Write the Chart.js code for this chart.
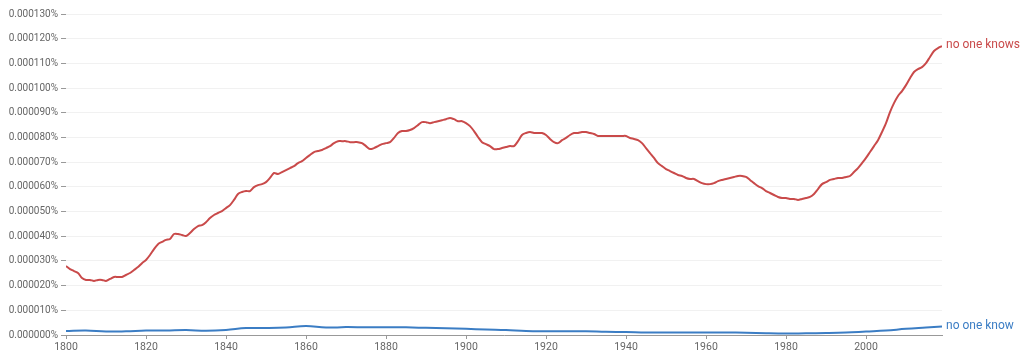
<!DOCTYPE html>
<html lang="en">
<head>
    <meta charset="UTF-8">
    <title>no one knows / no one know</title>
    <script src="https://cdn.jsdelivr.net/npm/chart.js@4/dist/chart.umd.min.js"></script>
    <style>
        html, body { margin: 0; padding: 0; background: #fff; }
        #wrap { width: 1024px; height: 352px; }
    </style>
</head>
<body>
    <div id="wrap"><canvas id="myChart"></canvas></div>

    <script>
        // values are in millionths of a percent (28 -> 0.000028%)
        const UNIT = 1e-6;

        const knowsYears = [];
        for (let y = 1800; y <= 2019; y++) knowsYears.push(y);
        const knowsValues = [
            27.9, 26.7, 25.9, 25.1, 23.1, 22.3, 22.3, 21.9, 22.3, 22.3,
            21.9, 22.7, 23.5, 23.5, 23.5, 24.3, 25.1, 26.3, 27.5, 29.1,
            30.4, 32.4, 34.8, 36.8, 37.7, 38.5, 38.9, 40.9, 40.9, 40.5,
            40.1, 41.3, 42.9, 44.1, 44.5, 45.7, 47.4, 48.6, 49.4, 50.2,
            51.4, 52.6, 54.7, 57.1, 57.9, 58.3, 58.3, 59.9, 60.7, 61.1,
            61.9, 63.6, 65.6, 65.2, 66.0, 66.8, 67.6, 68.4, 69.6, 70.4,
            71.7, 72.9, 74.1, 74.5, 74.9, 75.7, 76.5, 77.7, 78.5, 78.5,
            78.5, 78.1, 78.1, 78.1, 77.7, 76.5, 75.3, 75.7, 76.5, 77.3,
            77.7, 78.1, 79.8, 81.8, 82.6, 82.6, 83.0, 83.8, 85.0, 86.2,
            86.2, 85.8, 86.2, 86.6, 87.0, 87.4, 87.9, 87.4, 86.6, 86.6,
            85.8, 84.6, 82.6, 80.2, 78.1, 77.3, 76.5, 75.3, 75.3, 75.7,
            76.1, 76.5, 76.5, 78.5, 81.0, 81.8, 82.2, 81.8, 81.8, 81.8,
            81.0, 79.4, 78.1, 77.7, 78.9, 79.8, 81.0, 81.8, 81.8, 82.2,
            82.2, 81.8, 81.4, 80.6, 80.6, 80.6, 80.6, 80.6, 80.6, 80.6,
            80.6, 79.8, 79.4, 78.9, 77.7, 75.7, 73.7, 71.7, 69.6, 68.4,
            67.2, 66.4, 65.6, 64.8, 64.4, 63.6, 63.2, 63.2, 62.3, 61.5,
            61.1, 61.1, 61.5, 62.3, 62.8, 63.2, 63.6, 64.0, 64.4, 64.4,
            64.0, 62.8, 61.5, 60.3, 59.5, 58.3, 57.5, 56.7, 55.9, 55.5,
            55.5, 55.1, 55.1, 54.7, 55.1, 55.5, 55.9, 57.1, 59.1, 61.1,
            61.9, 62.8, 63.2, 63.6, 63.6, 64.0, 64.4, 66.0, 67.6, 69.6,
            71.7, 74.1, 76.5, 78.9, 82.2, 85.8, 90.3, 93.9, 96.8, 98.8,
            101.2, 104.0, 106.5, 107.7, 108.5, 110.1, 112.6, 115.0, 116.2, 117.0
        ];

        const knowYears = [
            1800, 1805, 1810, 1815, 1820, 1825, 1830, 1835, 1840, 1845,
            1850, 1855, 1860, 1865, 1870, 1875, 1880, 1885, 1890, 1895,
            1900, 1905, 1910, 1915, 1920, 1925, 1930, 1935, 1940, 1945,
            1950, 1955, 1960, 1965, 1970, 1975, 1980, 1985, 1990, 1995,
            2000, 2005, 2010, 2015, 2019
        ];
        const knowValues = [
            1.6, 1.8, 1.4, 1.5, 1.8, 1.8, 2.0, 1.7, 2.0, 2.8,
            2.8, 3.0, 3.6, 3.0, 3.2, 3.1, 3.1, 3.1, 2.9, 2.7,
            2.5, 2.2, 2.0, 1.6, 1.5, 1.5, 1.5, 1.3, 1.2, 1.0,
            1.0, 1.0, 1.0, 1.0, 0.9, 0.7, 0.6, 0.7, 0.8, 1.0,
            1.4, 1.8, 2.5, 3.0, 3.4
        ];

        const seriesNames = ['no one knows', 'no one know'];
        const seriesColors = ['#c94a4a', '#3b7dc4'];

        const toPoints = (xs, ys) => xs.map((x, i) => ({ x: x, y: ys[i] }));

        // write the series name next to the last point of each line
        const endLabels = {
            id: 'endLabels',
            afterDatasetsDraw(chart) {
                const ctx = chart.ctx;
                ctx.save();
                ctx.font = '12px Roboto';
                ctx.textBaseline = 'middle';
                chart.data.datasets.forEach((ds, i) => {
                    const pts = chart.getDatasetMeta(i).data;
                    const last = pts[pts.length - 1];
                    ctx.fillStyle = ds.borderColor;
                    ctx.fillText(ds.label, last.x + 4, last.y - 1);
                });
                ctx.restore();
            }
        };

        Chart.defaults.font.family = 'Roboto';
        Chart.defaults.font.size = 10;
        Chart.defaults.color = '#666';

        const ctx = document.getElementById('myChart').getContext('2d');
        const myChart = new Chart(ctx, {
            type: 'line',
            data: {
                datasets: [
                    {
                        label: seriesNames[0],
                        data: toPoints(knowsYears, knowsValues),
                        borderColor: seriesColors[0],
                        borderWidth: 2,
                        pointRadius: 0,
                        tension: 0.3
                    },
                    {
                        label: seriesNames[1],
                        data: toPoints(knowYears, knowValues),
                        borderColor: seriesColors[1],
                        borderWidth: 2,
                        pointRadius: 0,
                        tension: 0.4
                    }
                ]
            },
            options: {
                responsive: true,
                maintainAspectRatio: false,
                animation: false,
                layout: { padding: { top: 14, right: 82, left: 0, bottom: 0 } },
                plugins: {
                    legend: { display: false },
                    tooltip: { enabled: false }
                },
                scales: {
                    x: {
                        type: 'linear',
                        min: 1800,
                        max: 2019,
                        afterBuildTicks: (scale) => {
                            scale.ticks = scale.ticks.filter(t => t.value % 20 === 0);
                        },
                        afterFit: (scale) => { scale.height = 17; },
                        ticks: {
                            stepSize: 20,
                            padding: 2,
                            maxRotation: 0,
                            font: { size: 10.5 },
                            callback: (v) => String(v)
                        },
                        grid: {
                            drawOnChartArea: false,
                            tickLength: 4,
                            tickColor: '#999'
                        },
                        border: { display: true, color: '#999' }
                    },
                    y: {
                        min: 0,
                        max: 130,
                        afterFit: (scale) => { scale.width = 66; },
                        ticks: {
                            stepSize: 10,
                            padding: 3,
                            callback: (v) => (v * UNIT).toFixed(6) + '%'
                        },
                        grid: {
                            color: '#f1f1f1',
                            tickLength: 5,
                            tickColor: '#999'
                        },
                        border: { display: false }
                    }
                }
            },
            plugins: [endLabels]
        });
    </script>
</body>
</html>
